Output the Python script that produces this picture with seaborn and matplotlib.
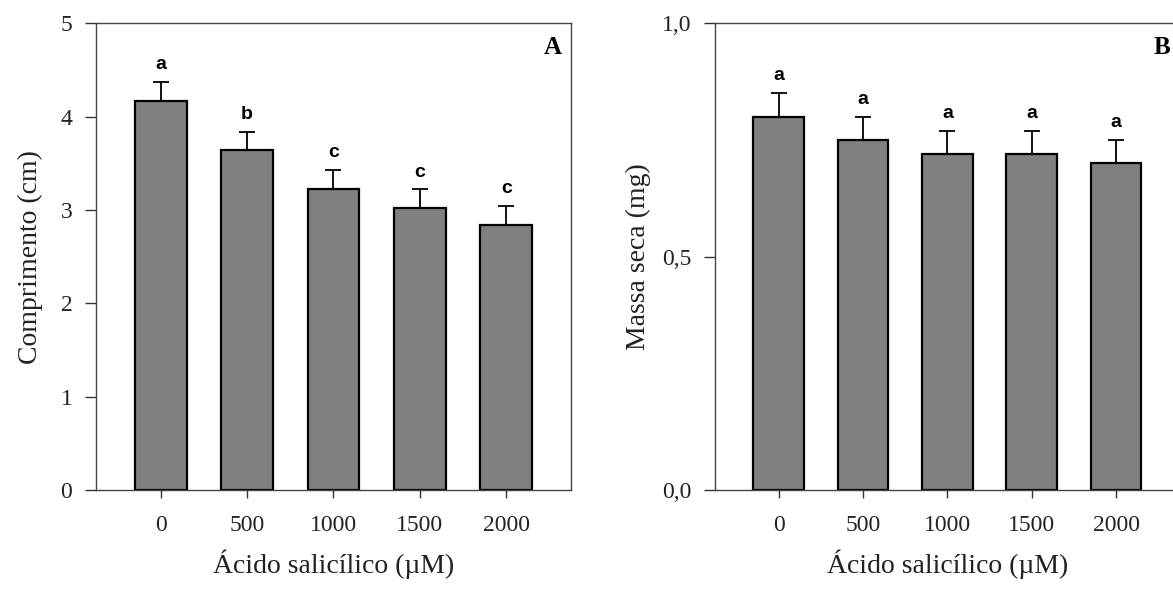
import pandas as pd
import matplotlib.pyplot as plt
import seaborn as sns

doses = ['0', '500', '1000', '1500', '2000']

comprimento = [4.17, 3.64, 3.23, 3.02, 2.84]
comprimento_err = [0.20, 0.20, 0.20, 0.20, 0.20]
comprimento_letras = ['a', 'b', 'c', 'c', 'c']

massa = [0.80, 0.75, 0.72, 0.72, 0.70]
massa_err = [0.05, 0.05, 0.05, 0.05, 0.05]
massa_letras = ['a', 'a', 'a', 'a', 'a']

sns.set_style('ticks')
plt.rcParams['font.family'] = ['Liberation Serif', 'DejaVu Serif']
txt = '#222222'

fig = plt.figure(figsize=(11.73, 5.90), dpi=100)
ax1 = fig.add_axes([0.0818, 0.1695, 0.405, 0.791])
ax2 = fig.add_axes([0.6099, 0.1695, 0.3956, 0.791])


def painel(ax, vals, errs, letras, ylim, yticks, yticklabels, ylabel, ylabel_x, tag):
    df = pd.DataFrame({'dose': doses, 'valor': vals})
    sns.barplot(data=df, x='dose', y='valor', order=doses, color='#808080',
                saturation=1, width=0.6, edgecolor='black', linewidth=1.6,
                errorbar=None, ax=ax)
    ax.errorbar(range(len(doses)), vals, yerr=[[0] * len(errs), errs], fmt='none',
                ecolor='black', elinewidth=1.3, capsize=6, capthick=1.3)
    for i, (v, e, l) in enumerate(zip(vals, errs, letras)):
        ax.annotate(l, (i, v + e), xytext=(0, 12.5), textcoords='offset points',
                    ha='center', va='center', fontsize=14, fontweight='bold',
                    family='Liberation Sans', color='black')
    ax.set_xlim(-0.75, 4.75)
    ax.set_ylim(*ylim)
    ax.set_yticks(yticks)
    ax.set_yticklabels(yticklabels)
    ax.set_ylabel(ylabel, fontsize=20, color=txt)
    ax.set_xlabel('Ácido salicílico (µM)', fontsize=20, color=txt)
    ax.yaxis.set_label_coords(ylabel_x, 0.5)
    ax.xaxis.set_label_coords(0.5, -0.128)
    ax.tick_params(axis='y', direction='out', length=8, width=1, pad=9,
                   labelsize=17, labelcolor=txt, color='#333333')
    ax.tick_params(axis='x', direction='out', length=6, width=1, pad=12,
                   labelsize=17, labelcolor=txt, color='#333333')
    for s in ax.spines.values():
        s.set_visible(True)
        s.set_linewidth(1.0)
        s.set_color('#444444')
    ax.text(0.981, 0.972, tag, transform=ax.transAxes, ha='right', va='top',
            fontsize=18, fontweight='bold', color='black')


painel(ax1, comprimento, comprimento_err, comprimento_letras, (0, 5),
       [0, 1, 2, 3, 4, 5], ['0', '1', '2', '3', '4', '5'],
       'Comprimento (cm)', -0.112, 'A')
painel(ax2, massa, massa_err, massa_letras, (0, 1.0),
       [0.0, 0.5, 1.0], ['0,0', '0,5', '1,0'],
       'Massa seca (mg)', -0.138, 'B')

fig.savefig('out.png', dpi=100)
